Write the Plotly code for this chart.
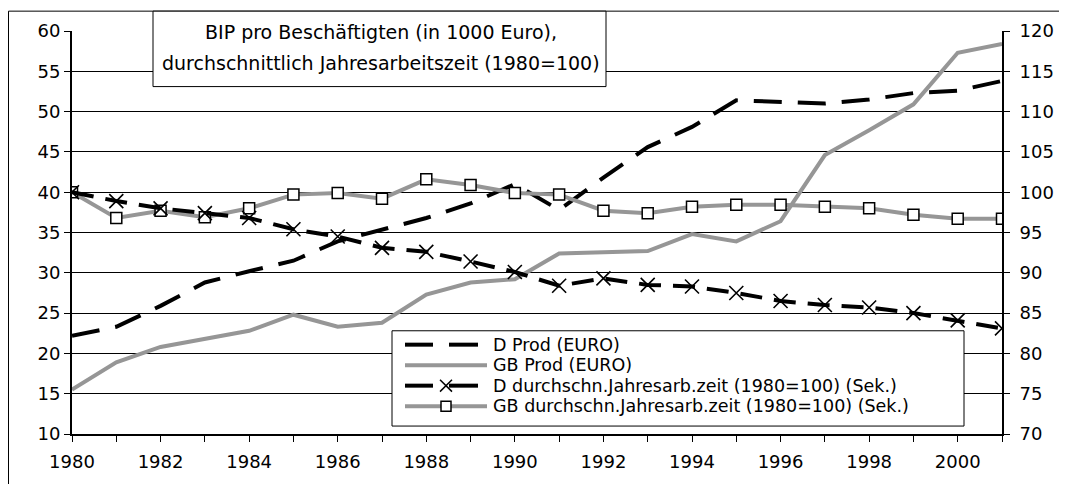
import plotly.graph_objects as go

years = list(range(1980, 2002))
d_prod = [22.2, 23.3, 25.9, 28.8, 30.2, 31.5, 33.9, 35.4, 36.8, 38.6, 41.0, 37.8,
          41.8, 45.6, 48.1, 51.4, 51.2, 51.0, 51.5, 52.3, 52.6, 53.8]
gb_prod = [15.5, 18.9, 20.8, 21.8, 22.8, 24.8, 23.3, 23.8, 27.3, 28.8, 29.2, 32.4,
           32.6, 32.7, 34.8, 33.9, 36.4, 44.6, 47.7, 50.9, 57.3, 58.4]
d_az = [100.0, 98.9, 98.0, 97.4, 96.8, 95.4, 94.5, 93.1, 92.6, 91.4, 90.1, 88.4,
        89.3, 88.5, 88.3, 87.5, 86.5, 86.0, 85.7, 85.0, 84.1, 83.1]
gb_az = [100.0, 96.8, 97.7, 96.9, 98.0, 99.7, 99.9, 99.2, 101.6, 100.9, 99.9, 99.7,
         97.7, 97.4, 98.2, 98.45, 98.45, 98.2, 98.0, 97.2, 96.7, 96.7]

names = ["D Prod (EURO)", "GB Prod (EURO)",
         "D durchschn.Jahresarb.zeit (1980=100) (Sek.)",
         "GB durchschn.Jahresarb.zeit (1980=100) (Sek.)"]
title_lines = ["BIP pro Beschäftigten (in 1000 Euro),",
               "durchschnittlich Jahresarbeitszeit (1980=100)"]

GRAY = "#969696"
FONT = "DejaVu Sans, Liberation Sans, Arial, sans-serif"
FS = 18
FS_TXT = 19
FS_LEG = 17.5

# page offset of the figure (body margin of the html page)
OFF = 8
# plot-area pixel geometry in page coordinates
L, R, T, B = 72, 1002, 30, 436
W, H = 1067 - OFF, 484 - OFF


def px(x):
    return (x - L) / (R - L)


def py(y):
    return (B - y) / (B - T)


fig = go.Figure()
fig.add_trace(go.Scatter(x=years, y=gb_az, name=names[3], yaxis="y2",
                         mode="lines+markers",
                         line=dict(color=GRAY, width=4),
                         marker=dict(symbol="square", size=11, color="white",
                                     line=dict(color="black", width=1.5))))
fig.add_trace(go.Scatter(x=years, y=d_az, name=names[2], yaxis="y2",
                         mode="lines+markers",
                         line=dict(color="black", width=4, dash="22px,12px"),
                         marker=dict(symbol="x-thin", size=14,
                                     line=dict(color="black", width=1.6))))
fig.add_trace(go.Scatter(x=years, y=gb_prod, name=names[1],
                         mode="lines", line=dict(color=GRAY, width=4)))
fig.add_trace(go.Scatter(x=years, y=d_prod, name=names[0],
                         mode="lines", line=dict(color="black", width=4, dash="28px,16px")))

fig.update_layout(
    width=W, height=H,
    margin=dict(l=L - OFF, r=W - (R - OFF), t=T - OFF, b=H - (B - OFF)),
    paper_bgcolor="white", plot_bgcolor="white",
    font=dict(family=FONT, size=FS, color="black"),
    showlegend=False,
    xaxis=dict(range=[1980, 2001], tickmode="linear", tick0=1980, dtick=2,
               showgrid=False, showline=True, linecolor="black", linewidth=2,
               ticks="outside", ticklen=6, tickcolor="black",
               minor=dict(dtick=1, ticks="outside", ticklen=6, tickcolor="black"),
               zeroline=False, ticklabelstandoff=4),
    yaxis=dict(range=[10, 60], tickmode="linear", tick0=10, dtick=5,
               showgrid=True, gridcolor="black", gridwidth=1,
               showline=True, linecolor="black", linewidth=2,
               ticks="outside", ticklen=6, tickcolor="black", zeroline=False),
    yaxis2=dict(range=[70, 120], tickmode="linear", tick0=70, dtick=5,
                overlaying="y", side="right", showgrid=False,
                showline=True, linecolor="black", linewidth=2,
                ticks="outside", ticklen=6, tickcolor="black", zeroline=False,
                ticklabelstandoff=6),
)

shapes = []
# outer chart frame
shapes.append(dict(type="rect", xref="paper", yref="paper",
                   x0=px(OFF + 0.5), x1=px(1090), y0=py(500), y1=py(10),
                   line=dict(color="black", width=1), fillcolor="rgba(0,0,0,0)",
                   layer="above"))
# title box
shapes.append(dict(type="rect", xref="paper", yref="paper",
                   x0=px(153), x1=px(606), y0=py(86), y1=py(10),
                   line=dict(color="black", width=1), fillcolor="white", layer="above"))
# legend box
shapes.append(dict(type="rect", xref="paper", yref="paper",
                   x0=px(392), x1=px(964), y0=py(428), y1=py(332),
                   line=dict(color="black", width=1), fillcolor="white", layer="above"))


def seg(x0, y0, x1, y1, color, width):
    shapes.append(dict(type="line", xref="paper", yref="paper",
                       x0=px(x0), x1=px(x1), y0=py(y0), y1=py(y1),
                       line=dict(color=color, width=width), layer="above"))


rows = [346, 366.7, 387.3, 408]
# D Prod sample: two dashes
seg(405, rows[0], 433, rows[0], "black", 4)
seg(449, rows[0], 478, rows[0], "black", 4)
# GB Prod sample
seg(405, rows[1], 487, rows[1], GRAY, 4)
# D Jahresarbeitszeit sample: dashes + x marker
seg(405, rows[2], 433, rows[2], "black", 4)
seg(449, rows[2], 478, rows[2], "black", 4)
seg(440, rows[2] - 6, 452, rows[2] + 6, "black", 1.5)
seg(440, rows[2] + 6, 452, rows[2] - 6, "black", 1.5)
# GB Jahresarbeitszeit sample: gray line + square marker
seg(405, rows[3], 487, rows[3], GRAY, 4)
shapes.append(dict(type="rect", xref="paper", yref="paper",
                   x0=px(441), x1=px(451), y0=py(rows[3] + 5), y1=py(rows[3] - 5),
                   line=dict(color="black", width=1.5), fillcolor="white", layer="above"))
fig.update_layout(shapes=shapes)

for name, ypx in zip(names, rows):
    fig.add_annotation(text=name, xref="paper", yref="paper",
                       x=px(492), y=py(ypx), xanchor="left", yanchor="middle",
                       showarrow=False, borderpad=0,
                       font=dict(size=FS_LEG, family=FONT))

for line, ypx in zip(title_lines, [31, 62]):
    fig.add_annotation(text=line, xref="paper", yref="paper",
                       x=px(381), y=py(ypx),
                       xanchor="center", yanchor="middle", showarrow=False,
                       font=dict(size=FS_TXT, family=FONT))

fig.write_html("out.html")
